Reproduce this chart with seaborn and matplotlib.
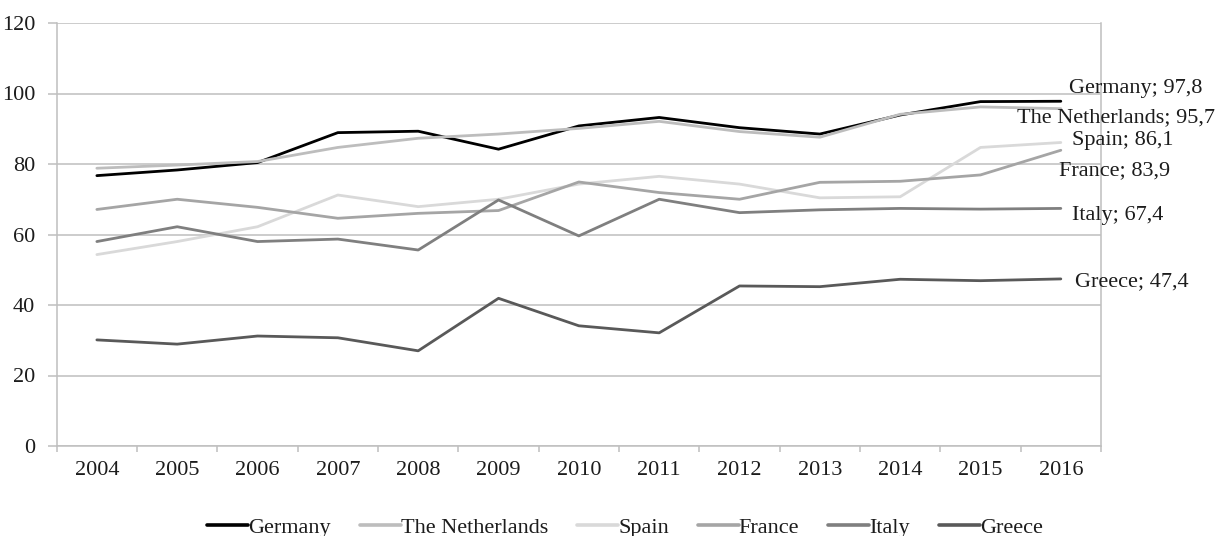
import pandas as pd
import numpy as np
import matplotlib.pyplot as plt
import seaborn as sns
from matplotlib.ticker import FixedLocator

# Data
years = ['2004', '2005', '2006', '2007', '2008', '2009', '2010',
         '2011', '2012', '2013', '2014', '2015', '2016']
germany = [76.7, 78.3, 80.4, 88.9, 89.3, 84.2, 90.8, 93.2, 90.3, 88.5, 93.9, 97.7, 97.8]
netherlands = [78.8, 79.7, 80.7, 84.7, 87.3, 88.5, 90.1, 92.1, 89.2, 87.6, 94.1, 96.2, 95.7]
spain = [54.3, 58.0, 62.2, 71.2, 67.9, 70.0, 74.3, 76.5, 74.3, 70.4, 70.7, 84.7, 86.1]
france = [67.1, 70.0, 67.7, 64.6, 66.0, 66.8, 74.9, 71.9, 70.0, 74.8, 75.1, 76.9, 83.9]
italy = [58.0, 62.2, 58.0, 58.7, 55.6, 69.8, 59.6, 70.0, 66.2, 67.0, 67.4, 67.2, 67.4]
greece = [30.1, 28.9, 31.2, 30.7, 27.0, 41.9, 34.1, 32.1, 45.4, 45.2, 47.3, 46.9, 47.4]

countries = ['Germany', 'The Netherlands', 'Spain', 'France', 'Italy', 'Greece']
series = [germany, netherlands, spain, france, italy, greece]
colors = ['#000000', '#bdbdbd', '#d9d9d9', '#a5a5a5', '#7f7f7f', '#595959']

df = pd.DataFrame({
    'Year': years * len(countries),
    'Value': np.concatenate(series),
    'Country': np.repeat(countries, len(years)),
})

sns.set_style('white')
plt.rcParams['font.family'] = ['Liberation Serif', 'DejaVu Serif']
fs = 16
txt_color = '#1c1c1c'
grid_color = '#bfbfbf'

fig = plt.figure(figsize=(12.25, 5.36), dpi=100)
ax = fig.add_axes([56.7 / 1225, 1 - 446 / 536, (1101 - 56.7) / 1225, (446 - 23) / 536])

sns.lineplot(data=df, x='Year', y='Value', hue='Country', hue_order=countries,
             palette=colors, linewidth=2.0, ax=ax, legend=True, sort=False)

ax.set_xlim(-0.5, len(years) - 0.5)
ax.set_ylim(0, 120)
ax.set_yticks(range(0, 121, 20))
ax.set_xlabel('')
ax.set_ylabel('')

# grid and frame
ax.yaxis.grid(True, color=grid_color, linewidth=1.1)
ax.xaxis.grid(False)
ax.set_axisbelow(True)
for side in ['left', 'bottom', 'right']:
    ax.spines[side].set_visible(True)
    ax.spines[side].set_color(grid_color)
    ax.spines[side].set_linewidth(1.1)
ax.spines['top'].set_visible(False)

# ticks: y ticks outward, x ticks between categories
ax.tick_params(axis='y', which='major', direction='out', length=6.5, width=1.1,
               color=grid_color, pad=9, labelsize=fs, labelcolor=txt_color, left=True)
ax.xaxis.set_minor_locator(FixedLocator(np.arange(-0.5, len(years), 1.0)))
ax.tick_params(axis='x', which='minor', direction='out', length=4, width=1.1,
               color=grid_color, bottom=True)
ax.tick_params(axis='x', which='major', length=0, pad=11, labelsize=fs,
               labelcolor=txt_color)

# end-of-line data labels
label_offsets = {
    'Germany': (8, 13),
    'The Netherlands': (-44, -9),
    'Spain': (11, 2),
    'France': (-2, -20),
    'Italy': (11, -7),
    'Greece': (14, -3),
}
for name, vals in zip(countries, series):
    dx, dy = label_offsets[name]
    last = vals[-1]
    ax.annotate(f"{name}; {last:.1f}".replace('.', ','),
                xy=(len(years) - 1, last), xytext=(dx, dy),
                textcoords='offset pixels', ha='left', va='center',
                fontsize=fs, color=txt_color, annotation_clip=False)

# legend at bottom
handles, labels = ax.get_legend_handles_labels()
ax.get_legend().remove()
for h in handles:
    h.set_linewidth(2.6)
fig.legend(handles, labels, loc='center', bbox_to_anchor=(625 / 1225, 1 - 528 / 536),
           ncol=6, frameon=False, fontsize=fs, handlelength=1.85,
           handletextpad=0.0, columnspacing=1.3, labelcolor=txt_color)

fig.savefig('out.png', dpi=100)
